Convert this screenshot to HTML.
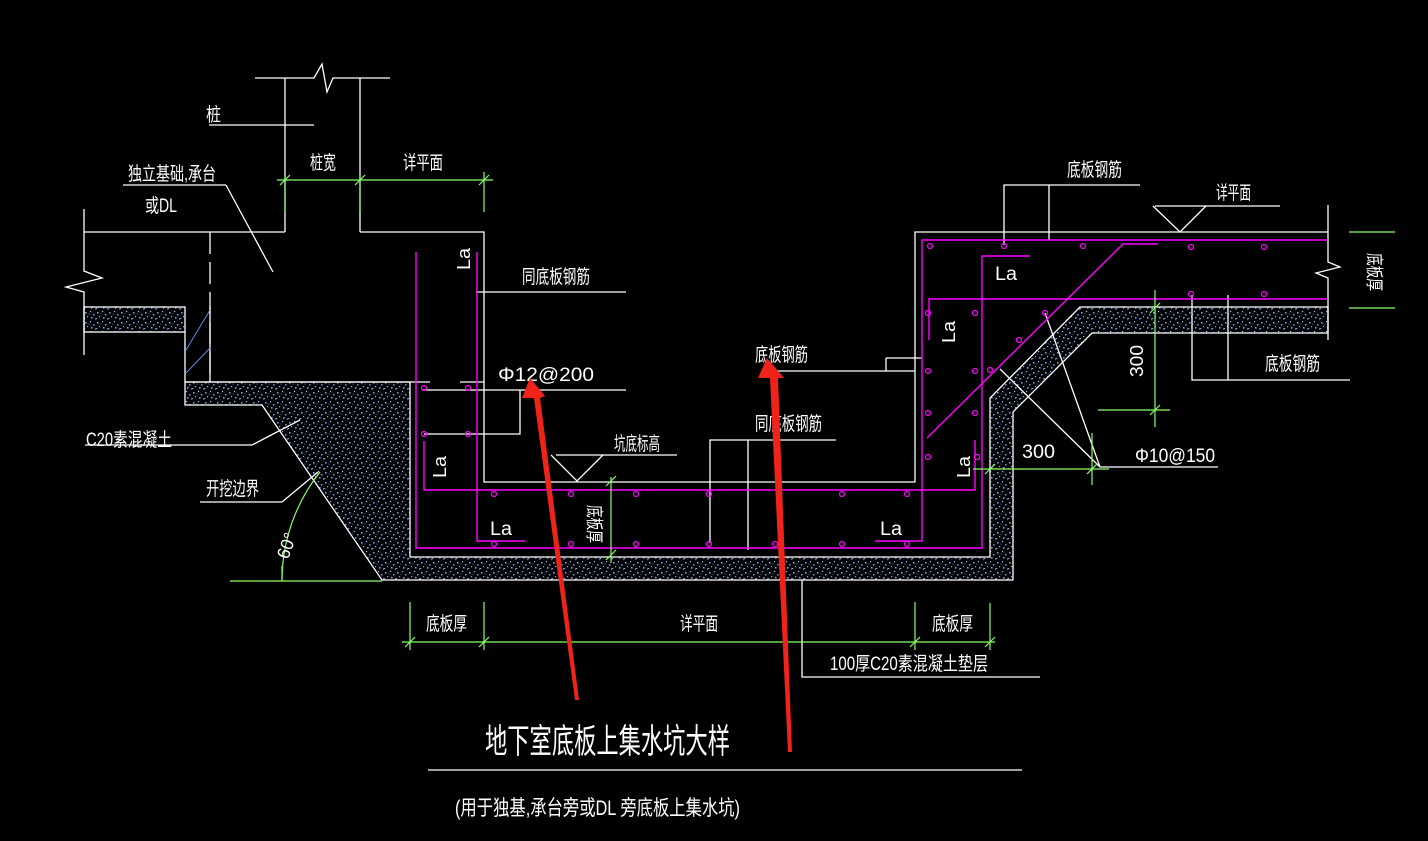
<!DOCTYPE html>
<html><head><meta charset="utf-8"><style>
html,body{margin:0;padding:0;background:#000;}
svg{display:block}
text{font-family:"Liberation Sans","Noto Sans CJK SC",sans-serif;fill:#fff;}
</style></head><body>
<svg width="1428" height="841" viewBox="0 0 1428 841" xmlns="http://www.w3.org/2000/svg">
<defs>
<pattern id="conc" width="12" height="10" patternUnits="userSpaceOnUse">
<rect width="12" height="10" fill="#000"/>
<rect x="1" y="2" width="1.6" height="1.6" fill="#6fa0e8"/>
<rect x="6" y="1" width="1.2" height="1.2" fill="#9cc0f8"/>
<rect x="9" y="4" width="1.6" height="1.6" fill="#5a8fe0"/>
<rect x="3" y="6" width="1.2" height="1.2" fill="#8ab4f4"/>
<rect x="7" y="7" width="1.6" height="1.6" fill="#6fa0e8"/>
<rect x="11" y="8.5" width="1" height="1" fill="#b0d0ff"/>
<rect x="4.5" y="3.5" width="1" height="1" fill="#4f84d8"/>
<rect x="0" y="8" width="1.2" height="1.2" fill="#7aa8f0"/>
</pattern>
</defs>
<rect width="1428" height="841" fill="#000"/>

<polygon fill="url(#conc)" stroke="#fff" stroke-width="1.3" points="185,382 185,405 262,405 382,580 1013,580 1013,412 1092,333 1328,333 1328,307 1080,307 990,398 990,557 410,557 410,382"/>
<rect x="84" y="307" width="101" height="25" fill="url(#conc)" stroke="#fff" stroke-width="1.3"/>

<g stroke="#fff" stroke-width="1.3" fill="none">
<polyline points="255,78 314,78 322,64 327,92 333,78 390,78"/>
<line x1="285" y1="78" x2="285" y2="232"/>
<line x1="360" y1="78" x2="360" y2="232"/>
<line x1="209" y1="125" x2="314" y2="125"/>
<polyline points="84,209 84,271 102,278 66,287 84,292 84,355"/>
<line x1="84" y1="232" x2="285" y2="232"/>
<polyline points="360,232 484,232 484,482 915,482 915,232 1328,232"/>
<line x1="210" y1="232" x2="210" y2="380" stroke-dasharray="22,8"/>
<line x1="185" y1="332" x2="185" y2="382"/>
<line x1="210" y1="307" x2="210" y2="382"/>
<line x1="185" y1="382" x2="430" y2="382"/>
<line x1="460" y1="382" x2="484" y2="382"/>
<polyline points="1328,205 1328,262 1340,267 1316,273 1328,278 1328,340"/>
<line x1="123" y1="185" x2="226" y2="185"/>
<line x1="226" y1="185" x2="273" y2="272"/>
<line x1="85" y1="445" x2="252" y2="445"/>
<line x1="252" y1="445" x2="300" y2="420"/>
<line x1="200" y1="502" x2="282" y2="502"/>
<line x1="282" y1="502" x2="318" y2="472"/>
<line x1="476" y1="292" x2="626" y2="292"/>
<line x1="422" y1="390" x2="626" y2="390"/>
<polyline points="424,434 520,434 520,390"/>
<line x1="556" y1="455" x2="677" y2="455"/>
<polyline points="551,455 577,481 603,455"/>
<line x1="773" y1="371" x2="915" y2="371"/>
<line x1="886" y1="371" x2="886" y2="358"/>
<line x1="886" y1="358" x2="922" y2="358"/>
<polyline points="710,543 710,440 836,440"/>
<line x1="748" y1="440" x2="748" y2="550"/>
<polyline points="1004,245 1004,185 1140,185"/>
<line x1="1049" y1="185" x2="1049" y2="240"/>
<line x1="1155" y1="206" x2="1280" y2="206"/>
<polyline points="1153,206 1180,232 1206,206"/>
<polyline points="1192,295 1192,380 1350,380"/>
<line x1="1228" y1="295" x2="1228" y2="380"/>
<line x1="1100" y1="467" x2="1218" y2="467"/>
<line x1="1100" y1="467" x2="1000" y2="369"/>
<line x1="1100" y1="467" x2="1045" y2="313"/>
<polyline points="802,580 802,677 1040,677"/>
<line x1="428" y1="770" x2="1022" y2="770"/>
</g>
<g stroke="#5a8fe0" stroke-width="1">
<line x1="186" y1="350" x2="210" y2="310"/>
<line x1="186" y1="373" x2="210" y2="348"/>
</g>

<g stroke="#f0f" stroke-width="1.4" fill="none">
<polyline points="416,252 416,548 982,548 982,256 1030,256"/>
<polyline points="477,252 477,541 525,541"/>
<polyline points="424,441 424,490 975,490 975,440"/>
<polyline points="875,541 922,541 922,240 1328,240"/>
<polyline points="929,340 929,299 1328,299"/>
<polyline points="927,438 1123,244 1158,244"/>
</g>
<g stroke="#f0f" stroke-width="1.2" fill="none">
<circle cx="424" cy="388" r="2.5"/><circle cx="468" cy="388" r="2.5"/>
<circle cx="424" cy="434" r="2.5"/><circle cx="468" cy="434" r="2.5"/>
<circle cx="494" cy="494" r="2.5"/><circle cx="571" cy="494" r="2.5"/><circle cx="636" cy="494" r="2.5"/><circle cx="709" cy="494" r="2.5"/><circle cx="842" cy="494" r="2.5"/><circle cx="907" cy="494" r="2.5"/>
<circle cx="494" cy="544" r="2.5"/><circle cx="571" cy="544" r="2.5"/><circle cx="636" cy="544" r="2.5"/><circle cx="709" cy="544" r="2.5"/><circle cx="775" cy="544" r="2.5"/><circle cx="842" cy="544" r="2.5"/><circle cx="907" cy="544" r="2.5"/>
<circle cx="930" cy="246" r="2.5"/><circle cx="1004" cy="246" r="2.5"/><circle cx="1083" cy="246" r="2.5"/><circle cx="1191" cy="247" r="2.5"/><circle cx="1264" cy="247" r="2.5"/>
<circle cx="1191" cy="294" r="2.5"/><circle cx="1264" cy="294" r="2.5"/>
<circle cx="928" cy="313" r="2.5"/><circle cx="975" cy="313" r="2.5"/><circle cx="1045" cy="313" r="2.5"/><circle cx="1019" cy="340" r="2.5"/>
<circle cx="928" cy="371" r="2.5"/><circle cx="975" cy="371" r="2.5"/><circle cx="990" cy="370" r="2.5"/>
<circle cx="928" cy="413" r="2.5"/><circle cx="975" cy="413" r="2.5"/>
<circle cx="928" cy="457" r="2.5"/><circle cx="977" cy="457" r="2.5"/>
</g>

<g stroke="#8f6" stroke-width="1.2" fill="none">
<line x1="277" y1="180" x2="493" y2="180"/>
<line x1="285" y1="175" x2="285" y2="212"/><line x1="360" y1="175" x2="360" y2="212"/><line x1="484" y1="172" x2="484" y2="212"/>
<line x1="280" y1="185" x2="290" y2="175"/><line x1="355" y1="185" x2="365" y2="175"/><line x1="479" y1="185" x2="489" y2="175"/>
<line x1="402" y1="642" x2="995" y2="642"/>
<line x1="410" y1="602" x2="410" y2="650"/><line x1="484" y1="602" x2="484" y2="650"/><line x1="915" y1="602" x2="915" y2="650"/><line x1="990" y1="603" x2="990" y2="650"/>
<line x1="405" y1="647" x2="415" y2="637"/><line x1="479" y1="647" x2="489" y2="637"/><line x1="910" y1="647" x2="920" y2="637"/><line x1="985" y1="647" x2="995" y2="637"/>
<line x1="611" y1="477" x2="611" y2="563"/>
<line x1="606" y1="486" x2="616" y2="476"/><line x1="606" y1="560" x2="616" y2="550"/>
<line x1="1155" y1="290" x2="1155" y2="427"/>
<line x1="1098" y1="410" x2="1170" y2="410"/>
<line x1="1150" y1="313" x2="1160" y2="303"/><line x1="1150" y1="415" x2="1160" y2="405"/>
<line x1="973" y1="469" x2="1109" y2="469"/>
<line x1="1092" y1="433" x2="1092" y2="485"/>
<line x1="985" y1="474" x2="995" y2="464"/><line x1="1087" y1="474" x2="1097" y2="464"/>
<line x1="1349" y1="232" x2="1395" y2="232"/><line x1="1349" y1="308" x2="1395" y2="308"/>
<path d="M320,472 A175,175 0 0 0 282,581"/>
<line x1="282" y1="581" x2="282" y2="566"/>
<line x1="230" y1="581" x2="382" y2="581"/>
</g>

<g font-size="19">
<text x="206" y="121" textLength="15" lengthAdjust="spacingAndGlyphs">桩</text>
<text x="128" y="180" textLength="88" lengthAdjust="spacingAndGlyphs">独立基础,承台</text>
<text x="145" y="212" textLength="32" lengthAdjust="spacingAndGlyphs">或DL</text>
<text x="310" y="169" textLength="26" lengthAdjust="spacingAndGlyphs">桩宽</text>
<text x="403" y="169" textLength="40" lengthAdjust="spacingAndGlyphs">详平面</text>
<text x="522" y="283" textLength="68" lengthAdjust="spacingAndGlyphs">同底板钢筋</text>
<text x="498" y="381" textLength="96" lengthAdjust="spacingAndGlyphs">Φ12@200</text>
<text x="614" y="450" textLength="46" lengthAdjust="spacingAndGlyphs">坑底标高</text>
<text x="755" y="361" textLength="53" lengthAdjust="spacingAndGlyphs">底板钢筋</text>
<text x="755" y="430" textLength="67" lengthAdjust="spacingAndGlyphs">同底板钢筋</text>
<text x="1067" y="176" textLength="55" lengthAdjust="spacingAndGlyphs">底板钢筋</text>
<text x="1216" y="199" textLength="35" lengthAdjust="spacingAndGlyphs">详平面</text>
<text x="1265" y="370" textLength="55" lengthAdjust="spacingAndGlyphs">底板钢筋</text>
<text x="1135" y="462" textLength="80" lengthAdjust="spacingAndGlyphs">Φ10@150</text>
<text x="1022" y="458" textLength="33" lengthAdjust="spacingAndGlyphs">300</text>
<text x="86" y="446" textLength="86" lengthAdjust="spacingAndGlyphs">C20素混凝土</text>
<text x="206" y="495" textLength="53" lengthAdjust="spacingAndGlyphs">开挖边界</text>
<text x="426" y="630" textLength="41" lengthAdjust="spacingAndGlyphs">底板厚</text>
<text x="680" y="630" textLength="38" lengthAdjust="spacingAndGlyphs">详平面</text>
<text x="932" y="630" textLength="41" lengthAdjust="spacingAndGlyphs">底板厚</text>
<text x="830" y="670" textLength="158" lengthAdjust="spacingAndGlyphs">100厚C20素混凝土垫层</text>
<text x="490" y="535" textLength="22" lengthAdjust="spacingAndGlyphs">La</text>
<text x="880" y="535" textLength="22" lengthAdjust="spacingAndGlyphs">La</text>
<text x="995" y="280" textLength="22" lengthAdjust="spacingAndGlyphs">La</text>
</g>
<g font-size="18">
<text transform="translate(470,270) rotate(-90)" textLength="22" lengthAdjust="spacingAndGlyphs">La</text>
<text transform="translate(446,478) rotate(-90)" textLength="22" lengthAdjust="spacingAndGlyphs">La</text>
<text transform="translate(955,343) rotate(-90)" textLength="22" lengthAdjust="spacingAndGlyphs">La</text>
<text transform="translate(970,478) rotate(-90)" textLength="22" lengthAdjust="spacingAndGlyphs">La</text>
<text transform="translate(1143,377) rotate(-90)" textLength="32" lengthAdjust="spacingAndGlyphs">300</text>
<text transform="translate(588,505) rotate(90)" textLength="38" lengthAdjust="spacingAndGlyphs">底板厚</text>
<text transform="translate(1368,253) rotate(90)" textLength="38" lengthAdjust="spacingAndGlyphs">底板厚</text>
<text transform="translate(288,560) rotate(-70)" textLength="26" lengthAdjust="spacingAndGlyphs">60°</text>
</g>
<text x="485" y="753" font-size="34" textLength="245" lengthAdjust="spacingAndGlyphs">地下室底板上集水坑大样</text>
<text x="455" y="815" font-size="21" textLength="285" lengthAdjust="spacingAndGlyphs">(用于独基,承台旁或DL 旁底板上集水坑)</text>

<g fill="#f0231a">
<polygon points="575,700 579,700 540,398 545,396 530,378 522,398 534,398"/>
<polygon points="788,752 792,752 778,378 784,378 767,358 758,378 770,378"/>
</g>
</svg>
</body></html>
